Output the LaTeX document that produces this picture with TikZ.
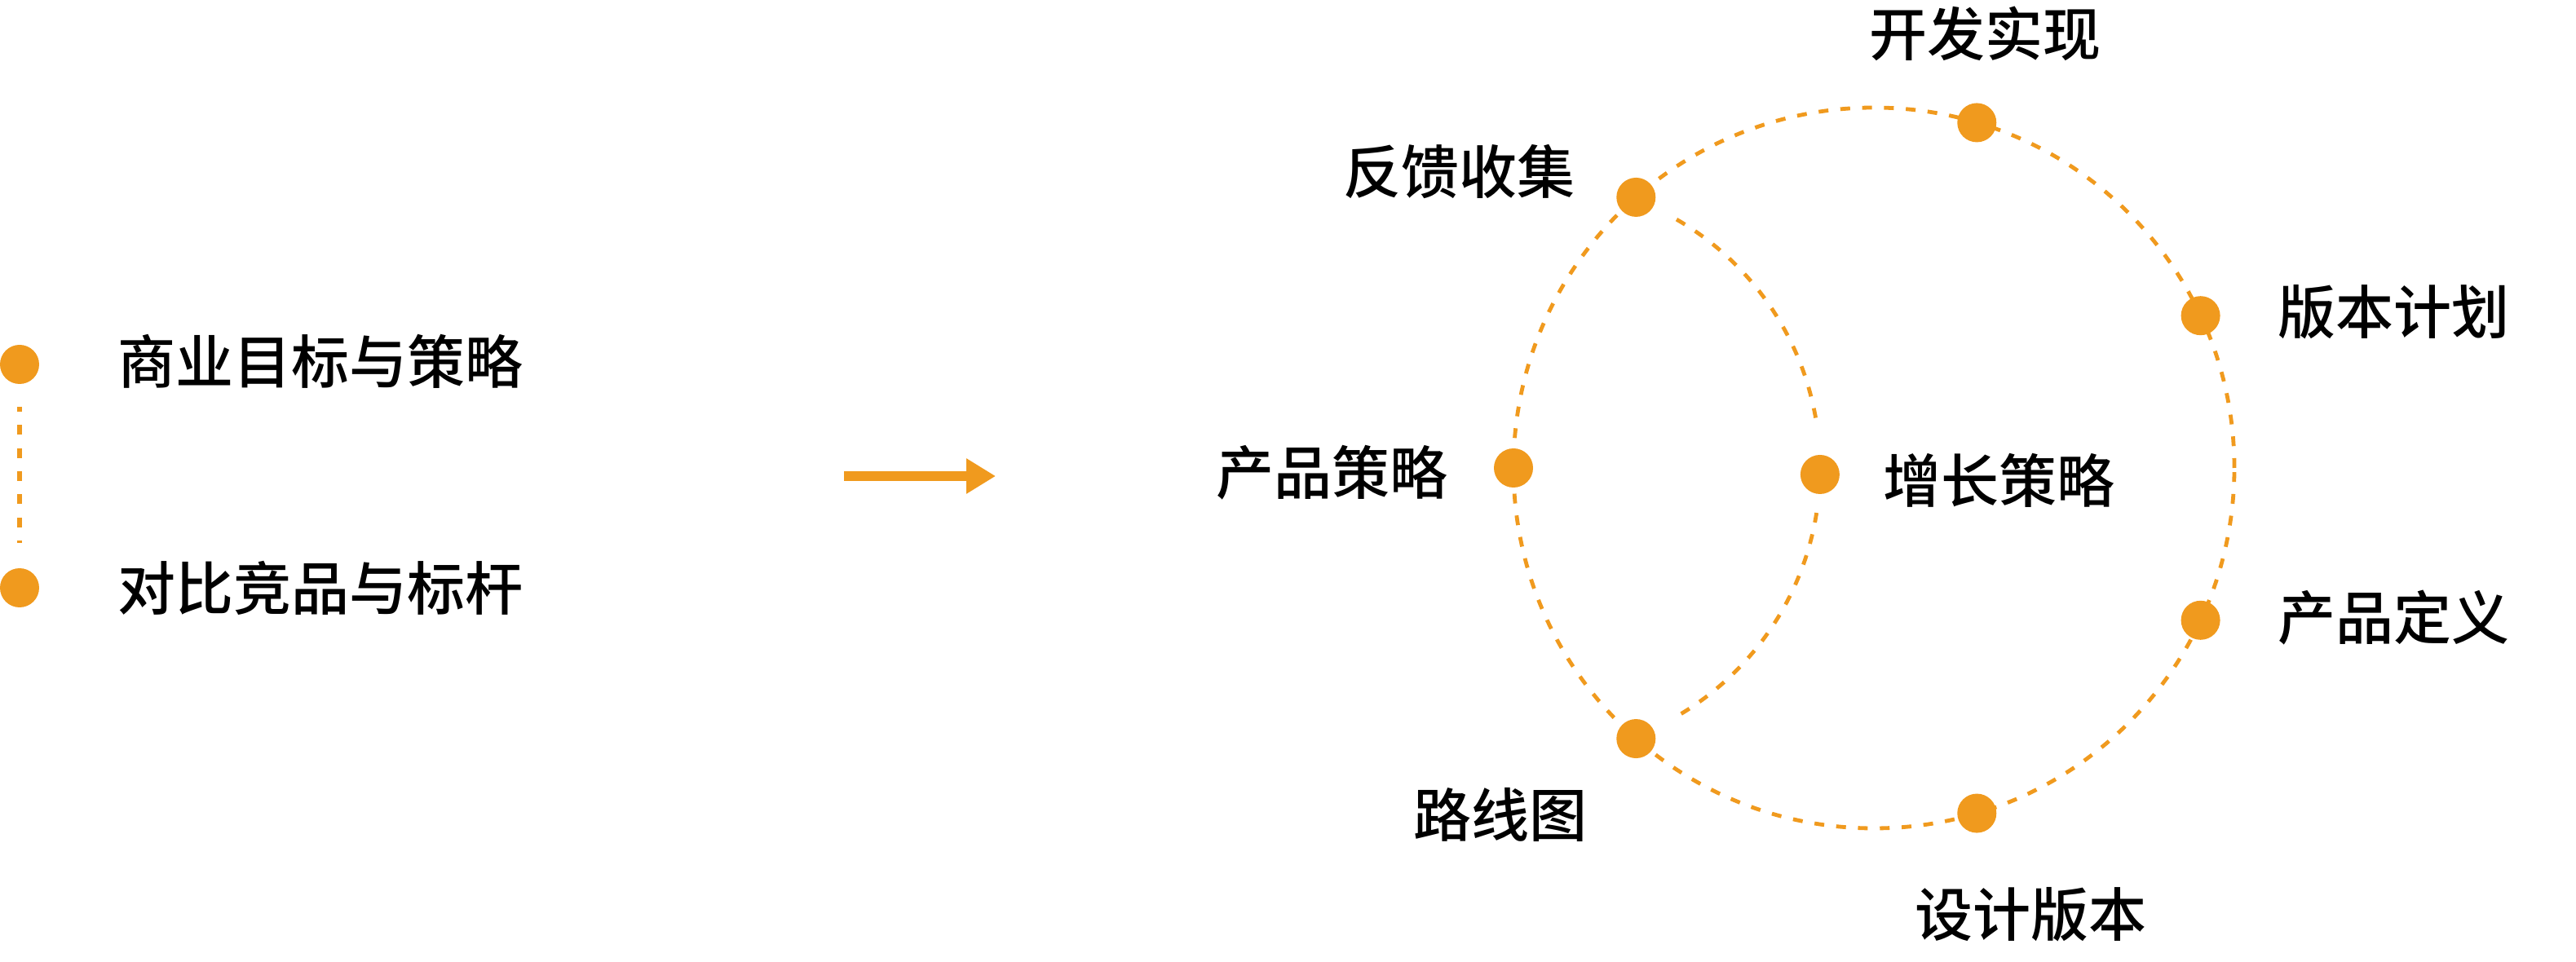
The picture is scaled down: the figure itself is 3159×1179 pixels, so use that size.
\documentclass[tikz,border=0pt]{standalone}
\usepackage{fontspec}
\newfontfamily\cjk{Noto Sans CJK SC Medium}
\usepackage{tikz}
\usetikzlibrary{arrows.meta,positioning}
\definecolor{accent}{RGB}{240,154,30}

\begin{document}
\begin{tikzpicture}[x=0.25pt, y=0.25pt,
  dot/.style={circle, fill=accent, inner sep=0pt, minimum size=12pt},
  lbl/.style={font=\cjk\fontsize{17.75pt}{21pt}\selectfont, inner sep=0pt},
  ring/.style={accent, line width=1.2pt, dash pattern=on 3pt off 3.7pt},
  link/.style={accent, line width=1.5pt, dash pattern=on 3pt off 4.1pt, dash phase=1.5pt},
  arr/.style={-{Triangle[length=9pt, width=10.25pt]}, accent, line width=3pt}]
\useasboundingbox (0,0) rectangle (3159,1179);
% left: from goals to benchmarks
\node[dot] (biz) at (24,732) {};
\node[dot] (bench) at (24,458) {};
\node[lbl, right=23.75pt of biz, yshift=1pt] (biztxt) {商业目标与策略};
\node[lbl, right=23.75pt of bench] (benchtxt) {对比竞品与标杆};
\draw[link, shorten <=6.75pt, shorten >=7.5pt] (biz) -- (bench);
\coordinate (arrs) at (1035,595);
\coordinate (arre) at (1221,595);
\draw[arr] (arrs) -- (arre);
% right: product cycle
\coordinate (c) at (2298,605);
\coordinate (ic) at (1880,605);
\draw[ring] (c) circle[radius=442];
\draw[ring] ([shift={(60:352)}]ic) arc[start angle=60, end angle=8, radius=352];
\draw[ring] ([shift={(-9:352)}]ic) arc[start angle=-9, end angle=-60, radius=352];
\node[dot] (dev) at ([shift={(73.4:442)}]c) {};
\node[dot] (plan) at ([shift={(25:442)}]c) {};
\node[dot] (def) at ([shift={(-25:442)}]c) {};
\node[dot] (design) at ([shift={(-73.4:442)}]c) {};
\node[dot] (road) at ([shift={(228.7:442)}]c) {};
\node[dot] (fb) at ([shift={(131.3:442)}]c) {};
\node[dot] (ps) at ([shift={(180:442)}]c) {};
\node[dot] (gr) at ([shift={(-1.3:352)}]ic) {};
\node[lbl, above=12.6pt of dev, xshift=2.5pt] (devtxt) {开发实现};
\node[lbl, right=17.25pt of plan, yshift=1pt] (plantxt) {版本计划};
\node[lbl, right=17.25pt of def, yshift=0.75pt] (deftxt) {产品定义};
\node[lbl, below=16.4pt of design, xshift=16.5pt] (designtxt) {设计版本};
\node[lbl, below left=10.5pt and 10.25pt of road] (roadtxt) {路线图};
\node[lbl, left=12.25pt of fb, yshift=7.75pt] (fbtxt) {反馈收集};
\node[lbl, left=13.75pt of ps, yshift=-1.5pt] (pstxt) {产品策略};
\node[lbl, right=13pt of gr, yshift=-1.75pt] (grtxt) {增长策略};
\end{tikzpicture}
\end{document}
